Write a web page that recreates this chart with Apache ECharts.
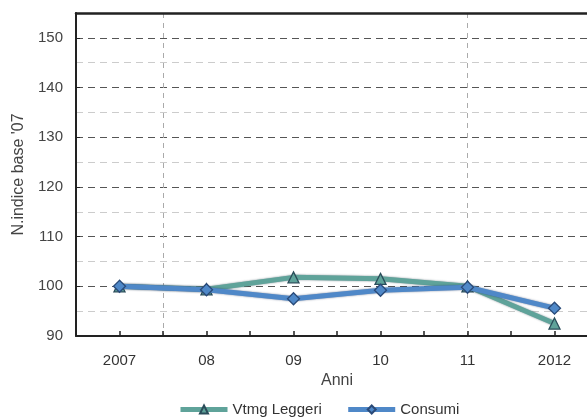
<!DOCTYPE html>
<html><head><meta charset="utf-8">
<script src="https://cdn.jsdelivr.net/npm/echarts@6/dist/echarts.min.js"></script>
<style>html,body{margin:0;padding:0;background:#fff}#c{width:587px;height:419px}</style>
</head><body><div id="c"></div>
<script>
const categories = ['2007', '08', '09', '10', '11', '2012'];
const vtmgLeggeri = [100, 99.4, 101.8, 101.5, 100, 92.5];
const consumi = [100, 99.3, 97.5, 99.2, 99.8, 95.6];
const seriesNames = ['Vtmg Leggeri', 'Consumi'];
const yTicks = [90, 100, 110, 120, 130, 140, 150];

const tickCats = [];
for (let i = 0; i < categories.length * 2; i++) tickCats.push('t' + i);

const chart = echarts.init(document.getElementById('c'), null, {renderer: 'canvas'});
const font = 'Liberation Sans, Arial, sans-serif';
chart.setOption({
  animation: false,
  backgroundColor: '#fff',
  grid: {left: 76, top: 13, width: 522, bottom: 83, containLabel: false, outerBoundsMode: 'none'},
  legend: {
    top: 397, left: 173, itemWidth: 47, itemHeight: 10, itemGap: 24,
    textStyle: {fontFamily: font, fontSize: 15, color: '#333'},
    lineStyle: {width: 5},
    data: seriesNames
  },
  xAxis: [{
    type: 'category', data: categories, position: 'bottom',
    name: 'Anni', nameLocation: 'middle', nameGap: 36,
    nameTextStyle: {fontFamily: font, fontSize: 16, color: '#444'},
    axisLine: {lineStyle: {color: '#222', width: 2}},
    axisTick: {show: false},
    axisLabel: {fontFamily: font, fontSize: 15, color: '#333', margin: 17},
    splitLine: {show: false}
  }, {
    type: 'category', data: tickCats, position: 'bottom', gridIndex: 0,
    axisLine: {show: false},
    axisTick: {show: true, inside: true, length: 5, lineStyle: {color: '#222', width: 1.5}, interval: 0},
    axisLabel: {show: false},
    splitLine: {show: true, interval: function (i) { return i === 2 || i === 9; },
      lineStyle: {color: '#aaa', type: [5, 5], width: 1}}
  }, {
    type: 'category', data: categories, position: 'top',
    axisLine: {show: true, lineStyle: {color: '#222', width: 2.5}},
    axisTick: {show: false}, axisLabel: {show: false}, splitLine: {show: false}
  }],
  yAxis: {
    type: 'value', min: 90, max: 155, interval: 10,
    name: "N.indice base '07", nameLocation: 'middle', nameGap: 42,
    nameTextStyle: {fontFamily: font, fontSize: 16, color: '#444'},
    axisLine: {show: true, lineStyle: {color: '#222', width: 2}},
    axisTick: {show: true, inside: true, length: 4, lineStyle: {color: '#222'}},
    axisLabel: {fontFamily: font, fontSize: 15, color: '#444', margin: 13,
      formatter: v => yTicks.indexOf(v) >= 0 ? String(v) : ''},
    splitLine: {show: true, lineStyle: {color: '#555', type: [7, 5], width: 1}},
    minorTick: {show: false, splitNumber: 2},
    minorSplitLine: {show: true, lineStyle: {color: '#ccc', type: [7, 5], width: 1}}
  },
  series: [{
    name: seriesNames[0], type: 'line', data: vtmgLeggeri, xAxisIndex: 0,
    symbol: 'triangle', symbolSize: 11,
    itemStyle: {color: '#5fa39a', borderColor: '#2a4d5a', borderWidth: 1.3},
    lineStyle: {color: '#5fa39a', width: 5, shadowColor: 'rgba(30,60,70,0.6)', shadowBlur: 2},
    z: 3
  }, {
    name: seriesNames[1], type: 'line', data: consumi, xAxisIndex: 0,
    symbol: 'diamond', symbolSize: 12,
    itemStyle: {color: '#4f88c8', borderColor: '#2a4a78', borderWidth: 1.3},
    lineStyle: {color: '#4f88c8', width: 5, shadowColor: 'rgba(30,50,90,0.6)', shadowBlur: 2},
    z: 4
  }]
});
</script></body></html>
